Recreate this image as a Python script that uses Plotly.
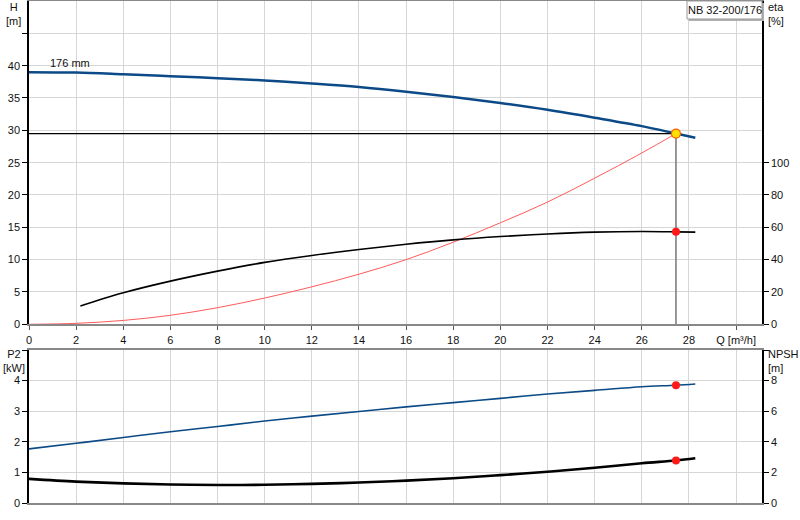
"""Pump performance curves for NB 32-200/176: head, efficiency, P2 and NPSH."""

import plotly.graph_objects as go

# flow rate [m3/h]
q_head = [0, 2, 4, 6, 8, 10, 12, 14, 16, 18, 20, 22, 24, 26, 27.45, 28.27]
head = [39.0, 38.93, 38.67, 38.37, 38.06, 37.7, 37.24, 36.7, 35.98, 35.15,
        34.22, 33.17, 31.95, 30.65, 29.5, 28.85]

q_eta = [2.18, 4, 6, 8, 10, 12, 14, 16, 18, 20, 22, 24, 26, 27.45, 28.27]
eta = [11.3, 19.5, 26.7, 32.9, 38.3, 42.6, 46.3, 49.5, 52.2, 54.3, 55.9,
       57.0, 57.4, 57.2, 57.0]

# system curve through the duty point
q_sys = [0, 2, 4, 6, 8, 10, 12, 14, 16, 18, 20, 22, 24, 26, 27.45]
h_sys = [0, 0.15, 0.6, 1.39, 2.57, 4.06, 5.8, 7.75, 10.0, 12.7, 15.7, 18.9,
         22.6, 26.5, 29.5]

q_low = [0, 2, 4, 6, 8, 10, 12, 14, 16, 18, 20, 22, 24, 26, 27.45, 28.27]
p2 = [1.77, 1.95, 2.14, 2.33, 2.5, 2.68, 2.84, 2.99, 3.14, 3.28, 3.42, 3.56,
      3.68, 3.80, 3.85, 3.89]
npsh = [1.58, 1.40, 1.28, 1.21, 1.18, 1.19, 1.25, 1.34, 1.46, 1.62, 1.82,
        2.04, 2.30, 2.60, 2.78, 2.92]

q_duty = 27.45
h_duty = 29.5
eta_duty = 57.2
p2_duty = 3.85
npsh_duty = 2.78

x_ticks = [0, 2, 4, 6, 8, 10, 12, 14, 16, 18, 20, 22, 24, 26, 28, 30]
x_labels = [str(v) for v in x_ticks[:-1]] + ["Q [m³/h]"]
h_ticks = [0, 5, 10, 15, 20, 25, 30, 35, 40, 45]
h_labels = [str(v) for v in h_ticks[:-1]] + [""]
eta_ticks = [0, 20, 40, 60, 80, 100]
p2_ticks = [0, 1, 2, 3, 4, 5]
p2_labels = ["0", "1", "2", "3", "4", ""]
npsh_ticks = [0, 2, 4, 6, 8, 10]
npsh_labels = ["0", "2", "4", "6", "8", ""]

W, H_PX = 800, 520
ML, MR, MT, MB = 29, 38, 1, 17


def px(x, y):
    # pixel -> paper coords
    return (x - ML) / (W - ML - MR), (H_PX - MB - y) / (H_PX - MT - MB)


BLUE = "#0b4a86"
GRID = "#d6d6d6"
FONT = "Liberation Sans, Arial, sans-serif"

fig = go.Figure()

fig.add_trace(go.Scatter(x=q_sys, y=h_sys, mode="lines", line_shape="spline",
                         line=dict(color="#ff5a5a", width=1), xaxis="x", yaxis="y"))
fig.add_trace(go.Scatter(x=[0, q_duty], y=[h_duty, h_duty], mode="lines",
                         line=dict(color="black", width=1.3), xaxis="x", yaxis="y"))
fig.add_trace(go.Scatter(x=[q_duty, q_duty], y=[0, h_duty], mode="lines",
                         line=dict(color="#777777", width=1.5), xaxis="x", yaxis="y"))
fig.add_trace(go.Scatter(x=q_head, y=head, mode="lines", line_shape="spline",
                         line=dict(color=BLUE, width=2.5), xaxis="x", yaxis="y"))
fig.add_trace(go.Scatter(x=q_eta, y=eta, mode="lines", line_shape="spline",
                         line=dict(color="black", width=1.6), xaxis="x", yaxis="y2"))
fig.add_trace(go.Scatter(x=[q_duty], y=[eta_duty], mode="markers",
                         marker=dict(color="#ff1a1a", size=8), xaxis="x", yaxis="y2"))
fig.add_trace(go.Scatter(x=[q_duty], y=[h_duty], mode="markers",
                         marker=dict(color="#ffe000", size=9,
                                     line=dict(color="#ff5a00", width=1.2)),
                         xaxis="x", yaxis="y"))

fig.add_trace(go.Scatter(x=q_low, y=p2, mode="lines", line_shape="spline",
                         line=dict(color=BLUE, width=1.6), xaxis="x2", yaxis="y3"))
fig.add_trace(go.Scatter(x=q_low, y=npsh, mode="lines", line_shape="spline",
                         line=dict(color="black", width=2.6), xaxis="x2", yaxis="y4"))
fig.add_trace(go.Scatter(x=[q_duty], y=[p2_duty], mode="markers",
                         marker=dict(color="#ff1a1a", size=8), xaxis="x2", yaxis="y3"))
fig.add_trace(go.Scatter(x=[q_duty], y=[npsh_duty], mode="markers",
                         marker=dict(color="#ff1a1a", size=8), xaxis="x2", yaxis="y4"))

top_dom = [px(0, 324.3)[1], 1]
low_dom = [0, px(0, 350)[1]]

tick_font = dict(size=11, color="#111")
xcommon = dict(range=[0, 31.1], tickvals=x_ticks, showgrid=True, gridcolor=GRID,
               gridwidth=1, zeroline=False, showline=True, linecolor="#888888",
               linewidth=2, mirror=True, ticks="outside", ticklen=4,
               tickcolor="#555555", tickfont=tick_font, automargin=False)
ycommon = dict(zeroline=False, showline=True, linecolor="black", linewidth=1.5,
               ticks="outside", ticklen=5, tickcolor="black", tickfont=tick_font,
               automargin=False)

fig.update_layout(
    width=W, height=H_PX,
    margin=dict(l=ML, r=MR, t=MT, b=MB),
    paper_bgcolor="white", plot_bgcolor="white",
    font=dict(family=FONT, size=11, color="#111"),
    showlegend=False,
    xaxis=dict(xcommon, anchor="y", ticktext=x_labels),
    xaxis2=dict(xcommon, anchor="y3", showticklabels=False, ticks=""),
    yaxis=dict(ycommon, domain=top_dom, range=[0, 50], tickvals=h_ticks,
               ticktext=h_labels, showgrid=True, gridcolor=GRID),
    yaxis2=dict(ycommon, domain=top_dom, range=[0, 200], tickvals=eta_ticks,
                overlaying="y", side="right", anchor="x", showgrid=False),
    yaxis3=dict(ycommon, domain=low_dom, range=[0, 5], tickvals=p2_ticks,
                ticktext=p2_labels, anchor="x2", showgrid=True, gridcolor=GRID),
    yaxis4=dict(ycommon, domain=low_dom, range=[0, 10], tickvals=npsh_ticks,
                ticktext=npsh_labels, overlaying="y3", side="right", anchor="x2",
                showgrid=False),
)

labels = [
    ("H<br>[m]", 14, 0, "center"),
    ("eta<br>[%]", 767, 0, "left"),
    ("P2<br>[kW]", 14, 347, "center"),
    ("NPSH<br>[m]", 767, 347, "left"),
]
for text, lx, ly, anchor in labels:
    ax, ay = px(lx, ly)
    fig.add_annotation(text=text, x=ax, y=ay, xref="paper", yref="paper",
                       xanchor=anchor, yanchor="top", showarrow=False, borderpad=0,
                       align=anchor, font=dict(size=11, color="#111"))

ax, ay = px(48, 63)
fig.add_annotation(text="176 mm", x=ax, y=ay, xref="paper", yref="paper",
                   xanchor="left", yanchor="middle", showarrow=False,
                   font=dict(size=11, color="#111"))

# model name box with a small drop shadow
bx0, by0 = px(687, 1)
bx1, by1 = px(762, 19)
sx0, sy0 = px(689, 3)
sx1, sy1 = px(764, 21)
fig.add_shape(type="rect", xref="paper", yref="paper", x0=sx0, y0=sy0, x1=sx1, y1=sy1,
              line=dict(width=0), fillcolor="#b0b0b0")
fig.add_shape(type="rect", xref="paper", yref="paper", x0=bx0, y0=by0, x1=bx1, y1=by1,
              line=dict(color="#999999", width=1), fillcolor="white")
ax, ay = px(724.5, 10)
fig.add_annotation(text="NB 32-200/176", x=ax, y=ay, xref="paper", yref="paper",
                   xanchor="center", yanchor="middle", showarrow=False,
                   font=dict(size=11, color="#111"))

# page has a default body margin; drop it so the chart sits at the window corner
fig.write_html("out.html", config={"displayModeBar": False},
               post_script="document.body.style.margin = '0';")
